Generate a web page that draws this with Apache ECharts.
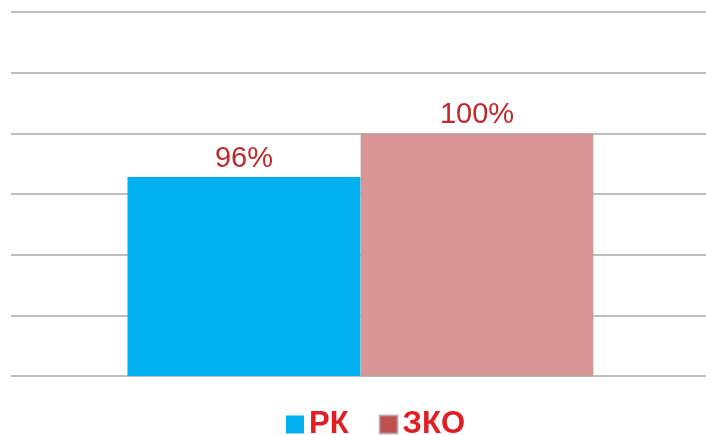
<!DOCTYPE html>
<html>
<head>
<meta charset="utf-8">
<script src="https://cdn.jsdelivr.net/npm/echarts@6/dist/echarts.min.js"></script>
<style>
  html, body { margin: 0; padding: 0; background: #fff; }
  #chart { width: 706px; height: 435px; }
</style>
</head>
<body>
<div id="chart"></div>
<script>
// data
const categories = [''];
const seriesNames = ['РК', 'ЗКО'];
const rkValues = [96.4];
const zkoValues = [100];

const myChart = echarts.init(document.getElementById('chart'));

const labelStyle = {
  show: true,
  position: 'top',
  distance: 4,
  color: '#C0282D',
  fontSize: 29,
  fontFamily: 'Liberation Sans, Arial, sans-serif',
  formatter: p => Math.round(p.value) + '%'
};

let option = {
  animation: false,
  grid: {
    left: 11,
    right: -4,
    top: 12,
    bottom: 59,
    outerBoundsMode: 'none'
  },
  xAxis: {
    type: 'category',
    data: categories,
    axisLine: { show: false },
    axisTick: { show: false },
    axisLabel: { show: false }
  },
  yAxis: {
    type: 'value',
    min: 80,
    max: 110,
    interval: 5,
    axisLabel: { show: false },
    axisLine: { show: false },
    axisTick: { show: false },
    splitLine: {
      lineStyle: { color: '#BEBEBE', width: 2 }
    }
  },
  legend: {
    top: 404,
    left: 281,
    itemWidth: 18,
    itemHeight: 18,
    itemGap: 30,
    icon: 'rect',
    textStyle: {
      color: '#E01E24',
      fontSize: 31,
      fontWeight: 'bold',
      fontFamily: 'Liberation Sans, Arial, sans-serif'
    },
    data: [
      { name: seriesNames[0], itemStyle: { color: '#00B0F0' } },
      { name: seriesNames[1], itemStyle: { color: '#C0504D' } }
    ]
  },
  series: [
    {
      name: seriesNames[0],
      type: 'bar',
      barWidth: 233,
      barGap: '0%',
      data: rkValues,
      itemStyle: { color: '#00B0F0' },
      label: labelStyle
    },
    {
      name: seriesNames[1],
      type: 'bar',
      barWidth: 233,
      data: zkoValues,
      itemStyle: { color: '#D99694', borderColor: 'rgba(170,170,170,0.7)', borderWidth: 1 },
      label: labelStyle
    }
  ]
};
myChart.setOption(option);
</script>
</body>
</html>
